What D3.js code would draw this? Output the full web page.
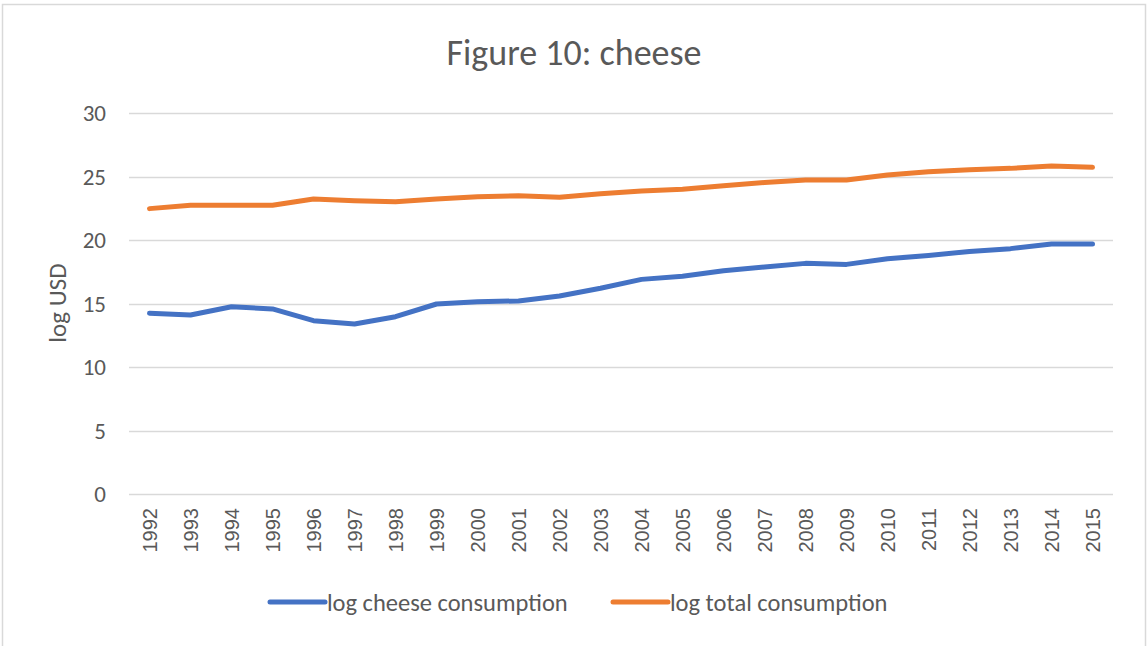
<!DOCTYPE html>
<html>
<head>
<meta charset="utf-8">
<script src="https://cdn.jsdelivr.net/npm/d3@7"></script>
<style>
  body { margin: 0; background: #fff; }
  text { font-family: Carlito, Calibri, Lato, sans-serif; fill: #595959; }
</style>
</head>
<body>
<svg id="chart" width="1147" height="646"></svg>
<script>
const years = ["1992", "1993", "1994", "1995", "1996", "1997", "1998", "1999", "2000", "2001", "2002", "2003",
    "2004", "2005", "2006", "2007", "2008", "2009", "2010", "2011", "2012", "2013", "2014", "2015"];
const cheese = [14.23, 14.1, 14.75, 14.57, 13.65, 13.39, 13.96, 14.96, 15.14, 15.2, 15.59, 16.2,
    16.9, 17.15, 17.58, 17.88, 18.16, 18.08, 18.53, 18.78, 19.1, 19.32, 19.68, 19.68];
const total = [22.47, 22.73, 22.73, 22.73, 23.23, 23.1, 23.02, 23.23, 23.41, 23.49, 23.36, 23.65,
    23.86, 24.0, 24.27, 24.53, 24.72, 24.72, 25.12, 25.38, 25.54, 25.64, 25.83, 25.72];
const yTicks = [0, 5, 10, 15, 20, 25, 30];
const seriesNames = ["log cheese consumption", "log total consumption"];
const seriesColors = ["#4472C4", "#ED7D31"];

const svg = d3.select("#chart");

// chart frame
svg.append("rect")
    .attr("x", 2.5)
    .attr("y", 4.5)
    .attr("width", 1143)
    .attr("height", 660)
    .attr("fill", "#fff")
    .attr("stroke", "#d9d9d9")
    .attr("stroke-width", 1.5);

const plot = { left: 129, right: 1113, top: 113, bottom: 494 };

const x = d3.scaleBand()
    .domain(years)
    .range([plot.left, plot.right]);

const y = d3.scaleLinear()
    .domain([0, 30])
    .range([plot.bottom, plot.top]);

const cx = d => x(d) + x.bandwidth() / 2;

// gridlines
svg.append("g")
    .selectAll("line")
    .data(yTicks)
    .join("line")
    .attr("x1", plot.left)
    .attr("x2", plot.right)
    .attr("y1", d => Math.round(y(d)) + 0.5)
    .attr("y2", d => Math.round(y(d)) + 0.5)
    .attr("stroke", "#d9d9d9")
    .attr("stroke-width", 1.5);

// y tick labels
svg.append("g")
    .selectAll("text")
    .data(yTicks)
    .join("text")
    .attr("x", 106)
    .attr("y", d => y(d))
    .attr("dy", "0.35em")
    .attr("text-anchor", "end")
    .style("font-size", "23px")
    .text(d => d);

// x tick labels
svg.append("g")
    .selectAll("text")
    .data(years)
    .join("text")
    .attr("transform", d => `translate(${cx(d)},508) rotate(-90)`)
    .attr("dy", "0.36em")
    .attr("text-anchor", "end")
    .style("font-family", "'Liberation Sans', Arial, sans-serif")
    .style("font-size", "20px")
    .text(d => d);

// lines
const line = d3.line()
    .x((d, i) => cx(years[i]))
    .y(d => y(d));

[cheese, total].forEach((vals, i) => {
    svg.append("path")
        .datum(vals)
        .attr("d", line)
        .attr("fill", "none")
        .attr("stroke", seriesColors[i])
        .attr("stroke-width", 5)
        .attr("stroke-linecap", "round")
        .attr("stroke-linejoin", "round");
});

// title
svg.append("text")
    .attr("x", 574)
    .attr("y", 65)
    .attr("text-anchor", "middle")
    .style("font-size", "36px")
    .style("font-weight", 300)
    .text("Figure 10: cheese");

// y axis title
svg.append("text")
    .attr("transform", "translate(57,303) rotate(-90)")
    .attr("dy", "0.35em")
    .attr("text-anchor", "middle")
    .style("font-size", "25px")
    .text("log USD");

// legend
const legendX = [270, 613];
const legend = svg.append("g")
    .selectAll("g")
    .data(seriesNames)
    .join("g")
    .attr("transform", (d, i) => `translate(${legendX[i]},602)`);

legend.append("line")
    .attr("x1", 0)
    .attr("x2", 55)
    .attr("stroke", (d, i) => seriesColors[i])
    .attr("stroke-width", 5)
    .attr("stroke-linecap", "round");

legend.append("text")
    .attr("x", 57)
    .attr("dy", "0.35em")
    .style("font-size", "24.5px")
    .text(d => d);
</script>
</body>
</html>
